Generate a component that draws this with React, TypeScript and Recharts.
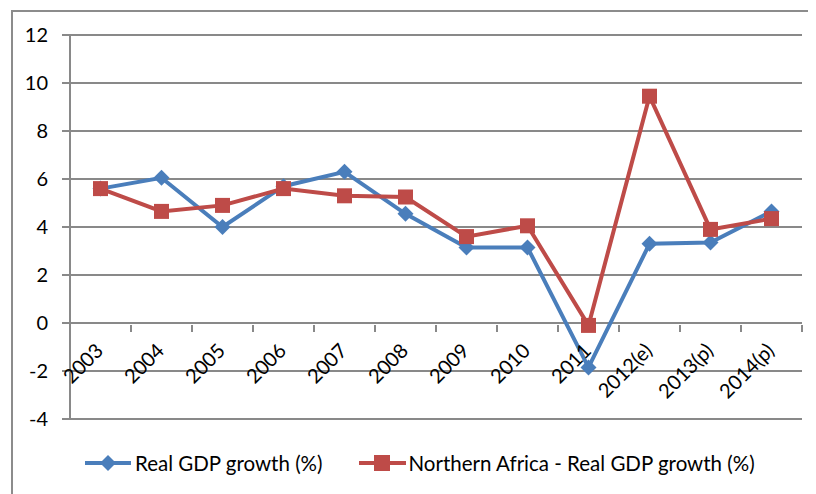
import React from 'react'
import {
  LineChart,
  Line,
  XAxis,
  YAxis,
  CartesianGrid,
  ReferenceLine,
  Legend,
} from 'recharts'

const years = ['2003', '2004', '2005', '2006', '2007', '2008', '2009', '2010', '2011', '2012(e)', '2013(p)', '2014(p)']
const realGdp = [5.6, 6.05, 4.0, 5.7, 6.3, 4.55, 3.15, 3.15, -1.85, 3.3, 3.35, 4.65]
const northAfrica = [5.6, 4.65, 4.9, 5.6, 5.3, 5.25, 3.6, 4.05, -0.1, 9.45, 3.9, 4.35]
const yTicks = [-4, -2, 0, 2, 4, 6, 8, 10, 12]

const data = years.map((y, i) => ({ year: y, gdp: realGdp[i], na: northAfrica[i] }))

const BLUE = '#4A7EBB'
const RED = '#BE4B48'
const GRID = '#898989'
const FONT = 'Lato, "Open Sans", sans-serif'
const FS = 20

const W = 808
const H = 486
const PLOT_H = 384
const Y_MIN = -4
const Y_MAX = 12
const BAND = 61
// distance between plot bottom and the zero line
const ZERO_SHIFT = (PLOT_H * (0 - Y_MIN)) / (Y_MAX - Y_MIN)

const Diamond = ({ cx, cy, r = 8, fill }: any) => (
  <path d={`M${cx},${cy - r}L${cx + r},${cy}L${cx},${cy + r}L${cx - r},${cy}Z`} fill={fill} />
)

const Square = ({ cx, cy, s = 7.5, fill }: any) => (
  <rect x={cx - s} y={cy - s} width={s * 2} height={s * 2} fill={fill} />
)

const XTick = (props: any) => {
  const { x, y, payload } = props
  const zy = y - ZERO_SHIFT
  const tx = x + 4
  const ty = zy + 27
  return (
    <g>
      <line x1={x - BAND / 2} y1={zy} x2={x - BAND / 2} y2={zy + 7} stroke={GRID} strokeWidth={2} />
      <line x1={x + BAND / 2} y1={zy} x2={x + BAND / 2} y2={zy + 7} stroke={GRID} strokeWidth={2} />
      <text
        x={tx}
        y={ty}
        textAnchor="end"
        transform={`rotate(-45, ${tx}, ${ty})`}
        fontFamily={FONT}
        fontSize={FS}
        fill="#000"
      >
        {payload.value}
      </text>
    </g>
  )
}

const LegendBox = () => (
  <div style={{ display: 'flex', alignItems: 'center', fontFamily: FONT, fontSize: 20.5, color: '#000', whiteSpace: 'nowrap' }}>
    <svg width={48} height={20}>
      <line x1={0} y1={10} x2={46} y2={10} stroke={BLUE} strokeWidth={4} />
      <Diamond cx={23} cy={10} r={8} fill={BLUE} />
    </svg>
    <span style={{ marginLeft: 2 }}>Real GDP growth (%)</span>
    <svg width={48} height={20} style={{ marginLeft: 36 }}>
      <line x1={0} y1={10} x2={47} y2={10} stroke={RED} strokeWidth={4} />
      <Square cx={23} cy={10} s={8} fill={RED} />
    </svg>
    <span style={{ marginLeft: 2 }}>Northern Africa - Real GDP growth (%)</span>
  </div>
)

const App = () => {
  return (
    <div style={{ position: 'relative', width: W, height: H, overflow: 'hidden', background: '#fff' }}>
      <div
        style={{
          position: 'absolute',
          left: 3,
          top: 2,
          width: W + 20,
          height: H + 20,
          border: '2px solid #8c8c8c',
        }}
      />
      <LineChart
        width={W}
        height={H}
        data={data}
        margin={{ top: 27, right: 14, left: 0, bottom: 31 }}
        style={{ position: 'absolute', left: 0, top: 0 }}
      >
        <CartesianGrid vertical={false} stroke={GRID} strokeWidth={2} />
        <XAxis
          dataKey="year"
          axisLine={false}
          tickLine={false}
          tickSize={0}
          height={20}
          interval={0}
          padding={{ left: BAND / 2, right: BAND / 2 }}
          tick={<XTick />}
        />
        <YAxis
          domain={[Y_MIN, Y_MAX]}
          ticks={yTicks}
          width={62}
          tickSize={8}
          tickMargin={14}
          axisLine={{ stroke: GRID, strokeWidth: 2 }}
          tickLine={{ stroke: GRID, strokeWidth: 2 }}
          tick={{ fill: '#000', fontSize: FS, fontFamily: FONT }}
        />
        <ReferenceLine y={0} stroke={GRID} strokeWidth={2} />
        <Legend
          verticalAlign="bottom"
          content={<LegendBox />}
          wrapperStyle={{ left: 77, bottom: 19, width: 'auto' }}
        />
        <Line
          type="linear"
          dataKey="gdp"
          stroke={BLUE}
          strokeWidth={4}
          isAnimationActive={false}
          dot={(p: any) => <Diamond key={`d${p.index}`} cx={p.cx} cy={p.cy} r={8} fill={BLUE} />}
        />
        <Line
          type="linear"
          dataKey="na"
          stroke={RED}
          strokeWidth={4}
          isAnimationActive={false}
          dot={(p: any) => <Square key={`s${p.index}`} cx={p.cx} cy={p.cy} s={7.5} fill={RED} />}
        />
      </LineChart>
    </div>
  )
}

export default App
